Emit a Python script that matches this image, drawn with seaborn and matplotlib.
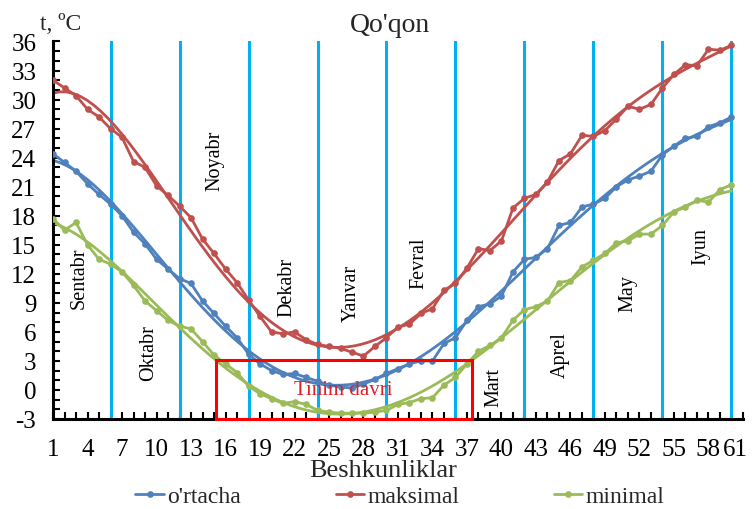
import matplotlib
matplotlib.use("Agg")
import matplotlib.pyplot as plt
import matplotlib.transforms as mtransforms
import seaborn as sns
from matplotlib.patches import Rectangle
from matplotlib.ticker import FixedLocator, MultipleLocator

# pentads (five-day periods) from September to June
pentads = list(range(1, 61))

ortacha = [24.4, 23.5, 22.6, 21.3, 20.2, 19.2, 18.0, 16.3, 15.1, 13.5,
           12.5, 11.5, 11.0, 9.2, 7.9, 6.6, 5.4, 3.7, 2.7, 2.0,
           1.6, 1.7, 1.3, 0.9, 0.5, 0.3, 0.2, 0.6, 1.1, 1.7,
           2.2, 2.7, 3.0, 3.0, 4.8, 5.4, 7.2, 8.6, 8.9, 9.7,
           12.2, 13.5, 13.7, 14.6, 17.0, 17.3, 18.9, 19.2, 19.8, 21.0,
           21.7, 22.1, 22.6, 24.3, 25.2, 26.0, 26.2, 27.2, 27.6, 28.2]

maksimal = [32.0, 31.2, 30.4, 29.0, 28.2, 27.0, 26.1, 23.6, 23.0, 21.1,
            20.1, 19.0, 17.8, 15.6, 14.1, 12.5, 11.1, 9.3, 7.6, 6.0,
            5.8, 6.0, 5.2, 4.7, 4.5, 4.3, 3.9, 3.5, 4.5, 5.4,
            6.5, 6.8, 7.9, 8.4, 10.3, 11.0, 12.6, 14.6, 14.4, 15.4,
            18.8, 19.8, 20.2, 21.5, 23.7, 24.4, 26.3, 26.2, 26.8, 28.0,
            29.3, 29.0, 29.5, 31.2, 32.6, 33.6, 33.5, 35.2, 35.1, 35.6]

minimal = [17.7, 16.5, 17.3, 15.0, 13.5, 13.0, 12.2, 10.8, 9.2, 8.2,
           7.2, 6.6, 6.3, 5.0, 3.6, 2.7, 1.8, 0.4, -0.4, -0.9,
           -1.4, -1.2, -1.5, -2.1, -2.3, -2.4, -2.4, -2.4, -2.3, -2.1,
           -1.5, -1.3, -0.9, -0.8, 0.5, 1.3, 2.7, 4.0, 4.6, 5.4,
           7.2, 8.3, 8.6, 9.2, 11.1, 11.3, 12.7, 13.4, 14.1, 15.2,
           15.4, 16.1, 16.1, 17.0, 18.4, 18.9, 19.6, 19.4, 20.7, 21.2]

months = ["Sentabr", "Oktabr", "Noyabr", "Dekabr", "Yanvar",
          "Fevral", "Mart", "Aprel", "May", "Iyun"]
month_bounds = [6, 12, 18, 24, 30, 36, 42, 48, 54, 60]
dormancy = (15.2, 37.4)  # pentad range of "Tinim davri"

# where the month names sit (x, y in data units)
month_pos = [(3.3, 11.6), (9.3, 3.9), (15.1, 23.8), (21.3, 10.7), (26.9, 10.1),
             (32.8, 13.2), (39.3, 0.4), (45.1, 3.7), (51.0, 10.1), (57.3, 14.9)]

sns.set_theme(style="white")
plt.rcParams["font.family"] = ["Liberation Serif", "DejaVu Serif"]
plt.rcParams["axes.unicode_minus"] = False

fig = plt.figure(figsize=(7.53, 5.10), dpi=100)
ax = fig.add_axes([0.0704, 0.1765, 0.9163, 0.7402])

for b in month_bounds:
    ax.axvline(b, color="#00B0F0", lw=2.2, zorder=1)

series = [("o'rtacha", ortacha, "#4F81BD"),
          ("maksimal", maksimal, "#C0504D"),
          ("minimal", minimal, "#9BBB59")]
for name, vals, col in series:
    # polynomial trend line, like the spreadsheet one
    sns.regplot(x=pentads, y=vals, order=5, scatter=False, ci=None, ax=ax,
                line_kws={"color": col, "lw": 2.0, "zorder": 2})
    sns.lineplot(x=pentads, y=vals, ax=ax, color=col, lw=2.0, marker="o",
                 markersize=4.8, markeredgewidth=0, label=name, zorder=3)

ax.add_patch(Rectangle((dormancy[0], -3), dormancy[1] - dormancy[0], 6.1,
                       fill=False, edgecolor="#FF0000", lw=2.2, zorder=4, clip_on=False))
ax.text(26.2, 0.0, "Tinim davri", color="#E0202A", fontsize=15, ha="center", va="center", zorder=5)

for m, (mx, my) in zip(months, month_pos):
    ax.text(mx, my, m, rotation=90, ha="center", va="center", fontsize=14.5, color="black", zorder=5)

ax.set_xlim(1, 61)
ax.set_ylim(-3, 36)
ax.xaxis.set_major_locator(FixedLocator(list(range(1, 62, 3))))
ax.xaxis.set_minor_locator(MultipleLocator(1))
ax.yaxis.set_major_locator(MultipleLocator(3))
ax.yaxis.set_minor_locator(MultipleLocator(1))
ax.tick_params(which="both", direction="in", length=5, width=1.5, color="black",
               bottom=True, left=True)
ax.tick_params(axis="x", labelsize=18, pad=14, colors="black")
ax.tick_params(axis="y", labelsize=18, pad=12, colors="black")
ax.set_xlabel("")
ax.set_ylabel("")
for s in ["top", "right"]:
    ax.spines[s].set_visible(False)
for s in ["left", "bottom"]:
    ax.spines[s].set_color("black")
    ax.spines[s].set_linewidth(2.2)

# last tick label is pulled inward so it stays on the canvas
fig.canvas.draw()
last = ax.get_xticklabels()[-1]
last.set_transform(last.get_transform() + mtransforms.ScaledTranslation(-8 / 100, 0, fig.dpi_scale_trans))

handles, labels = ax.get_legend_handles_labels()
ax.get_legend().remove()
fig.legend(handles, labels, loc="center", bbox_to_anchor=(400 / 753, 0.025), ncol=3,
           frameon=False, fontsize=17, handlelength=1.2, handletextpad=0.15,
           columnspacing=4.0)

fig.text(383 / 753, 1 - 471 / 510, "Beshkunliklar", ha="center", va="center", fontsize=19)
fig.text(390 / 753, 1 - 26 / 510, "Qo'qon", ha="center", va="center", fontsize=20)
fig.text(40 / 753, 1 - 24 / 510, "t, ºC", ha="left", va="center", fontsize=17)

fig.savefig("out.png", dpi=100)
